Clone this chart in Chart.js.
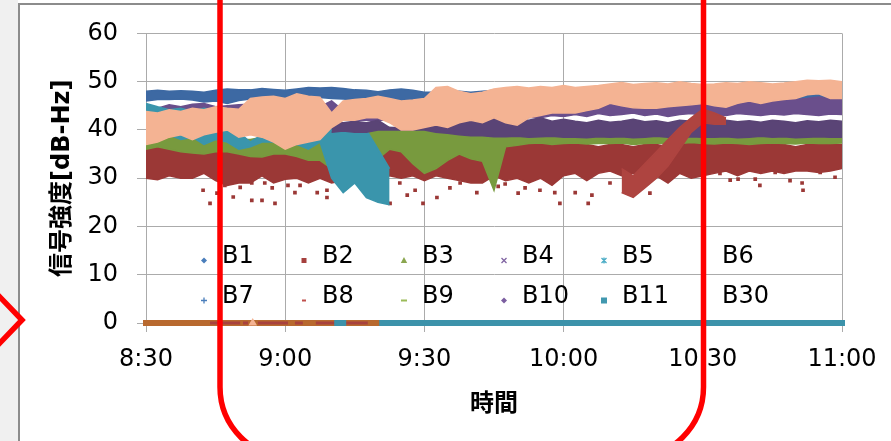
<!DOCTYPE html>
<html><head><meta charset="utf-8">
<script src="https://cdn.jsdelivr.net/npm/chart.js@4.4.1/dist/chart.umd.min.js"></script>
<style>
html,body{margin:0;padding:0;background:#fff;width:891px;height:441px;overflow:hidden;}
#wrap{position:relative;width:891px;height:441px;}
#lg{position:absolute;left:0;top:0;width:18px;height:441px;background:#f0f0f0;}
#bt{position:absolute;left:18px;top:3px;width:873px;height:2px;background:#8c8c8c;}
#bl{position:absolute;left:18px;top:3px;width:2px;height:438px;background:#8c8c8c;}
canvas{position:absolute;left:0;top:0;}
svg{position:absolute;left:0;top:0;}
</style></head><body>
<div id="wrap">
<div id="lg"></div><div id="bt"></div><div id="bl"></div>
<canvas id="c" width="891" height="441"></canvas>
<svg width="891" height="441">
 <path d="M220,-10 L220,387 A71,71 0 0 0 291,458 L632.5,458 A71,71 0 0 0 703.5,387 L703.5,-10" fill="none" stroke="#ff0000" stroke-width="5.5"/>
 <polyline points="-3,294 22,320 -3,346" fill="none" stroke="#ff0000" stroke-width="5.5"/>
</svg>
</div>
<script>
// ---- data (minutes after 8:30) ----
const timeMin = [0,2.5,5,7.5,10,12.5,15,17.5,20,22.5,25,27.5,30,32.5,35,37.5,40,42.5,45,47.5,50,52.5,55,57.5,60,62.5,65,67.5,70,72.5,75,77.5,80,82.5,85,87.5,90,92.5,95,97.5,100,102.5,105,107.5,110,112.5,115,117.5,120,122.5,125,127.5,130,132.5,135,137.5,140,142.5,145,147.5,150];
const tickLabels = ['8:30','9:00','9:30','10:00','10:30','11:00'];
const seriesNames = ['B1','B2','B3','B4','B5','B6','B7','B8','B9','B10','B11','B30'];
const xTitle = '時間';
const yTitle = '信号強度[dB-Hz]';

const b1Hi = [48,48.2,48,48.1,48,47.8,48.2,48.5,48.3,48.3,
  48.6,48.4,48.2,48.5,48.8,48.7,48.8,48.6,48.3,48.2,
  47.9,48.3,48.5,48.2,47.8,47.8,47.8,48,47.8,48,
  48.2,48.3,48.5,48.2,48.4,48.5,48.3,47.8,47.5,47.3,
  47,47.2,47,47.3,47.5,47.2,47,47.3,47.5,47.4,
  47.6,47.5,47.3,47.8,47.6,47.8,47.5,47.8,47.9,47.6,47.5];
const b1Lo = [46,46.3,46.3,46.4,46.2,45.8,46,45.5,46.1,46.4,
  46.3,46.2,46.2,46.3,46.6,46.7,46.5,46.4,46.2,46,
  45.9,46,46.2,46,45.8,46,46.2,46,46.1,46.3,
  46.2,46,46.4,46.2,46,46.2,46,45.4,45.2,45.3,
  45.1,45.4,45.2,45.3,45.1,45.3,45.2,45.4,45.3,45.5,
  45.3,45.4,45.6,45.5,45.6,45.7,45.5,45.8,45.9,45.8,45.7];

const b2Hi = [37,37.5,36.5,37,36,37,36.5,37,36.5,37,
  36,36.5,36.5,35.5,36,36.5,36,37,35.5,36.5,
  37,37,36.5,37,37,36,36.5,35.5,36,37,
  37.5,37,38.5,39,38,38.5,37.5,37.5,37,36.5,
  37,37,36.5,37,37,36.5,37,37.5,37,37,
  37.5,37,37,37.5,37,37,36.5,37,37.5,37,37];
const b2Lo = [30,29.7,30.5,30,30,31,29.5,28.5,29,29,
  30.5,29,29.8,30,29,30,29,29.5,30.5,29,
  30,30.5,30,30.5,29.5,30.5,30,29.5,29,29,
  30.5,29.5,30,29,30,28.5,30.5,31,29.5,31,
  31.5,30.5,31,30,30.5,29,31,30,30.5,31,
  31.5,30.5,31.5,31,31.5,31,31.5,31.5,31.2,31.5,32];
const b2OutX = [12.3,13.8,15.3,17,18.8,20.3,22.8,22.8,25,25.6,27.2,27.8,30.6,32.1,33.2,36.9,39,39,42.9,46.6,50.4,52.6,54.7,56.3,58,59.7,62.7,65.5,67.7,71.3,75.9,77.4,80.2,81.7,84.9,88.1,89.2,92.5,95.3,96.1,100,108.6,123.7,125.9,127.6,131.3,132.3,135.6,138.8,141.4,141.6,145.3,148.5];
const b2OutY = [27.5,24.8,26.9,28.5,26.1,28.1,29,25.4,25.4,29,28,24.8,28.5,27,28.5,27,27.5,26,28,28,28.5,24.8,29,26.5,27.5,24.8,26,28,29,27,28.3,28.8,26.9,28,27.5,27,24.8,27,24.8,26.5,29,26.9,31,29.6,29.8,29.8,28.5,31.2,29.5,29,27.5,31.2,30.2];
const b2TrailHi = [null,null,null,null,null,null,null,null,null,null,
  null,null,null,null,null,null,null,null,null,null,
  null,null,null,null,null,null,null,null,null,null,
  null,null,null,null,null,null,null,null,null,null,
  null,32,30.5,33,35.5,38,40.5,42.5,44.3,43.5,
  42.5,null,null,null,null,null,null,null,null,null,null];
const b2TrailLo = [null,null,null,null,null,null,null,null,null,null,
  null,null,null,null,null,null,null,null,null,null,
  null,null,null,null,null,null,null,null,null,null,
  null,null,null,null,null,null,null,null,null,null,
  null,27,26,28,30,32.5,36,39.5,41.5,41.2,
  41.2,null,null,null,null,null,null,null,null,null,null];

const b3Hi = [38.5,39,38.5,38.3,38.5,38,38.3,38.5,38,38,
  38.5,38,38.5,38,39.3,39.3,39,40.5,40,40,
  40.3,40.5,40.3,40,40,40.3,40,40,40,39.8,
  39.3,39,39,38.9,39.2,38.8,39,38.9,39.1,38.8,
  39,38.9,39.1,38.8,39,38.9,39.2,38.9,39,38.8,
  39,39.1,38.9,39,39.2,38.9,39,39.1,38.9,39,39.1];
const b3Lo = [36,36.5,36,35.5,35.2,35,35.5,35.5,35,34.5,
  34.4,35,35,34.5,33.7,33.7,32,31,30.5,31,
  34,36,35.5,33,31,32,33.7,35,34,33.5,
  27.5,36.5,36.8,37.2,37.3,37,37.2,37.3,37.1,37.2,
  37.2,37.3,37,37.2,37.3,37.1,37.2,37.4,37.2,37.1,
  37.3,37.2,37,37.2,37.3,37.2,37.1,37.3,37.2,37.2,37.3];

const b4Hi = [44.5,44.5,45.2,44.8,45.3,45.5,44.8,45,45.2,45.3,
  45,44.5,45,45.3,45,44.8,46,44,44,44,
  44,44,44,44,44,44,44,44,44,44,
  44.5,44.5,44.5,44.8,45,45,45.2,46,45.8,46.2,
  46,45.8,46,46.3,46,45.8,46.2,46,46,46.5,
  46.3,46.6,46.4,46.5,46.8,46.5,46.3,46.5,46.8,46.4,46.5];
const b4Lo = [43.5,43.8,43.5,43.6,43.5,43.8,43.5,43.6,43.5,43.5,
  43.8,43.5,43.6,43.5,43.8,43.5,42.8,42,42,42,
  42,42,42,42,42,42,42,42,42,42,
  42.5,42,41.8,42.6,42.5,43,42.8,43.2,42.8,43.4,
  43,43.2,43.5,43,43.3,42.8,43.2,43.4,43,43.2,
  43,43.4,43.2,43,43.3,43.1,43.4,43.2,43,43.3,43.2];

const b5Hi = [45.5,44.8,44.2,44.5,43.8,44.5,44,40,39.5,37.5,
  39,38.5,40,38,42,39,41.4,41.5,41,40,
  36,32,null,null,null,null,null,null,null,null,
  null,null,null,null,null,null,null,null,null,null,
  null,null,null,null,null,null,null,null,null,null,
  null,null,null,null,null,null,null,null,null,null,null];
const b5Lo = [38,38.5,39,38,38.5,37,38,37.5,36,36.5,
  37.5,37.5,36.5,37,36,37.5,30,27,29,26,
  25,24.5,null,null,null,null,null,null,null,null,
  null,null,null,null,null,null,null,null,null,null,
  null,null,null,null,null,null,null,null,null,null,
  null,null,null,null,null,null,null,null,null,null,null];

const b10Hi = [null,null,null,null,null,null,null,null,null,null,
  null,null,null,null,null,null,41.5,41.5,41.8,41.5,
  42,40.5,40.5,40.5,40.5,41.2,41.5,42,42.5,42.5,
  42.5,42,42.3,42,42.5,41.8,42.2,41.8,41.5,42,
  41.6,41.8,42.2,41.7,41.9,41.5,42,41.8,41.6,41.8,
  42,41.7,41.9,41.6,42,41.8,41.5,41.9,41.7,42,41.8];
const b10Lo = [null,null,null,null,null,null,null,null,null,null,
  null,null,null,null,null,null,39.5,39.8,39.5,39.5,
  40,40,40,40,40,39.5,39.3,39,38.8,38.8,
  38.6,38.6,38.7,38.5,38.6,38.7,38.5,38.5,38.4,38.6,
  38.5,38.6,38.4,38.5,38.7,38.5,38.4,38.6,38.5,38.5,
  38.6,38.4,38.5,38.7,38.5,38.6,38.4,38.5,38.6,38.5,38.5];

const b30Hi = [43.8,43.5,44.2,43.8,44.5,44.2,44.8,44.5,44.3,46.5,
  46.8,47,46.5,47.5,47,46.8,43.5,46,46.3,46.5,
  47,46.5,46,46.2,46.5,48.8,49,48,47.5,47.8,
  48.5,48.8,49,48.7,49,48.8,49.2,48.8,49,49.2,
  49.5,49.8,49.4,49.6,49.8,49.5,50,49.6,49.4,49.5,
  49.8,49.6,50,49.8,49.5,49.7,50,50.3,50.2,50.3,50];
const b30Lo = [37,37.5,38.5,39,38,39,39.5,40,38.5,39,
  38.5,37.5,36,37,37.5,38,40.5,42,42,42.5,
  42.5,41.5,40,40,40.5,41,40.5,41.5,42,41.5,
  42.5,41.5,41,42.5,43,43.5,43.5,43.5,44,44.5,
  45.5,45,44.6,44.5,44.5,44.8,45,45.2,45.5,45,
  44.7,45.5,46,45.5,46,46.3,46.5,47.3,47.5,46.5,46.5];

// values at 0 dB-Hz (segments: start / end minute)
const b6ZeroStart = [0];
const b6ZeroEnd = [50.9];
const b2ZeroStart = [13.8,20.9,24.1,32.1,36.6,42.7];
const b2ZeroEnd = [20.3,22,30.6,33.8,41.2,47.8];
const b11ZeroStart = [41.2,50.9];
const b11ZeroEnd = [42.5,150];
const b30ZeroX = [23];
const b30ZeroY = [0];

// ---- styles ----
const COL = {
  b1:'#3D69A3', b2:'#9B3836', trail:'#AE4440', b3:'#789A3E', b4:'#6A4F8C',
  b5:'#3A95AC', b6:'#B8692F', b2zero:'#A8423E', b10:'#5A4476', b11:'#3C92AA', b30:'#F4B393'
};
const legendStyle = [
  {s:'diamond',c:'#4A7EBB'},{s:'square',c:'#A5403D'},{s:'triangle',c:'#8AA64F'},
  {s:'cross',c:'#8064A2'},{s:'star',c:'#4BACC6'},{s:'none',c:'#F79646'},
  {s:'plus',c:'#4A7EBB'},{s:'dash',c:'#C0504D'},{s:'dashw',c:'#9BBB59'},
  {s:'diamond',c:'#7B5EA0'},{s:'square6',c:'#4198AF'},{s:'none',c:'#F4B393'}
];

function pts(xs, ys){
  const out=[];
  for(let i=0;i<xs.length;i++){ if(ys[i]!==null && ys[i]!==undefined) out.push({x:xs[i],y:ys[i]}); }
  return out;
}
function segs(starts, ends){
  const out=[];
  for(let i=0;i<starts.length;i++){ out.push({x:starts[i],y:0}); out.push({x:ends[i],y:0}); out.push({x:ends[i],y:null}); }
  return out;
}
const datasets=[];
function addBand(hi, lo, color){
  datasets.push({data:pts(timeMin,hi), borderColor:color, backgroundColor:color, borderWidth:1.5, pointRadius:0, fill:'+1', tension:0});
  datasets.push({data:pts(timeMin,lo), borderColor:color, backgroundColor:color, borderWidth:1.5, pointRadius:0, fill:false, tension:0});
}
function addZero(starts, ends, color, w, cap){
  datasets.push({data:segs(starts,ends), borderColor:color, borderWidth:w, pointRadius:0, fill:false, spanGaps:false, borderCapStyle:cap, clip:8});
}
// bottom -> top
addBand(b1Hi,b1Lo,COL.b1);
addBand(b2Hi,b2Lo,COL.b2);
datasets.push({data:pts(b2OutX,b2OutY), showLine:false, pointStyle:'rect', pointRadius:2.6, pointBackgroundColor:COL.b2, pointBorderWidth:0, borderColor:COL.b2});
addBand(b3Hi,b3Lo,COL.b3);
addBand(b4Hi,b4Lo,COL.b4);
addBand(b5Hi,b5Lo,COL.b5);
addZero(b6ZeroStart,b6ZeroEnd,COL.b6,6,'square');
addZero(b2ZeroStart,b2ZeroEnd,COL.b2zero,3,'butt');
addBand(b10Hi,b10Lo,COL.b10);
addBand(b2TrailHi,b2TrailLo,COL.trail);
addZero(b11ZeroStart,b11ZeroEnd,COL.b11,6,'square');
addBand(b30Hi,b30Lo,COL.b30);
datasets.push({data:pts(b30ZeroX,b30ZeroY), showLine:false, pointStyle:'triangle', pointRadius:5, pointBackgroundColor:COL.b30, pointBorderWidth:0, borderColor:COL.b30, clip:8});
datasets.forEach((d,i)=>{ d.order = datasets.length - i; });

function drawMarker(ctx, m, x, y){
  ctx.save();
  ctx.fillStyle=m.c; ctx.strokeStyle=m.c; ctx.lineWidth=1.3;
  ctx.beginPath();
  switch(m.s){
    case 'diamond': ctx.moveTo(x,y-3); ctx.lineTo(x+3,y); ctx.lineTo(x,y+3); ctx.lineTo(x-3,y); ctx.closePath(); ctx.fill(); break;
    case 'square': ctx.fillRect(x-2.5,y-2.5,5,5); break;
    case 'square6': ctx.fillRect(x-3,y-3,6,6); break;
    case 'triangle': ctx.moveTo(x,y-3.5); ctx.lineTo(x+3.2,y+2.5); ctx.lineTo(x-3.2,y+2.5); ctx.closePath(); ctx.fill(); break;
    case 'cross': ctx.moveTo(x-2.5,y-2.5); ctx.lineTo(x+2.5,y+2.5); ctx.moveTo(x+2.5,y-2.5); ctx.lineTo(x-2.5,y+2.5); ctx.stroke(); break;
    case 'star': ctx.moveTo(x-2.5,y-2.5); ctx.lineTo(x+2.5,y+2.5); ctx.moveTo(x+2.5,y-2.5); ctx.lineTo(x-2.5,y+2.5); ctx.moveTo(x,y-3); ctx.lineTo(x,y+3); ctx.stroke(); break;
    case 'plus': ctx.moveTo(x-3,y); ctx.lineTo(x+3,y); ctx.moveTo(x,y-3); ctx.lineTo(x,y+3); ctx.stroke(); break;
    case 'dash': ctx.fillRect(x-2,y-1,4,2); break;
    case 'dashw': ctx.fillRect(x-3,y-1,6,2); break;
    default: break;
  }
  ctx.restore();
}
const insideLegend = {
  id:'insideLegend',
  afterDatasetsDraw(chart){
    const ctx=chart.ctx;
    ctx.save();
    ctx.font='24px "DejaVu Sans"';
    ctx.textBaseline='middle';
    ctx.textAlign='left';
    ctx.fillStyle='#000';
    seriesNames.forEach((name,i)=>{
      const row=Math.floor(i/6), col=i%6;
      const x=222+col*100, y=257+row*40;
      drawMarker(ctx, legendStyle[i], x-18, y+3.5);
      ctx.fillText(name, x, y);
    });
    ctx.restore();
  }
};

const gridCol='#ababab';
new Chart(document.getElementById('c').getContext('2d'), {
  type:'line',
  data:{datasets},
  options:{
    responsive:false, animation:false, devicePixelRatio:1, events:[],
    layout:{padding:{left:30, top:33, right:49, bottom:10}},
    plugins:{legend:{display:false}, tooltip:{enabled:false}},
    scales:{
      x:{type:'linear', min:0, max:150,
        afterFit(s){ s.height=108; },
        ticks:{stepSize:30, autoSkip:false, maxRotation:0, padding:13, color:'#000',
          font:{family:'"DejaVu Sans"', size:24},
          callback:(v)=>tickLabels[Math.round(v/30)]},
        grid:{color:gridCol, lineWidth:1, tickLength:9},
        border:{color:gridCol},
        title:{display:true, text:xTitle, color:'#000',
          font:{family:'"Noto Sans CJK JP"', size:24, weight:'bold'}, padding:{top:0,bottom:14.6}}
      },
      y:{type:'linear', min:0, max:60,
        afterFit(s){ s.width=116; },
        ticks:{stepSize:10, padding:19, color:'#000', font:{family:'"DejaVu Sans"', size:24}},
        grid:{color:gridCol, lineWidth:1, tickLength:9},
        border:{color:gridCol},
        title:{display:true, text:yTitle, color:'#000',
          font:{family:'"DejaVu Sans","Noto Sans CJK JP"', size:24, weight:'bold'}, padding:{top:18.6,bottom:0}}
      }
    }
  },
  plugins:[insideLegend]
});
</script>
</body></html>
